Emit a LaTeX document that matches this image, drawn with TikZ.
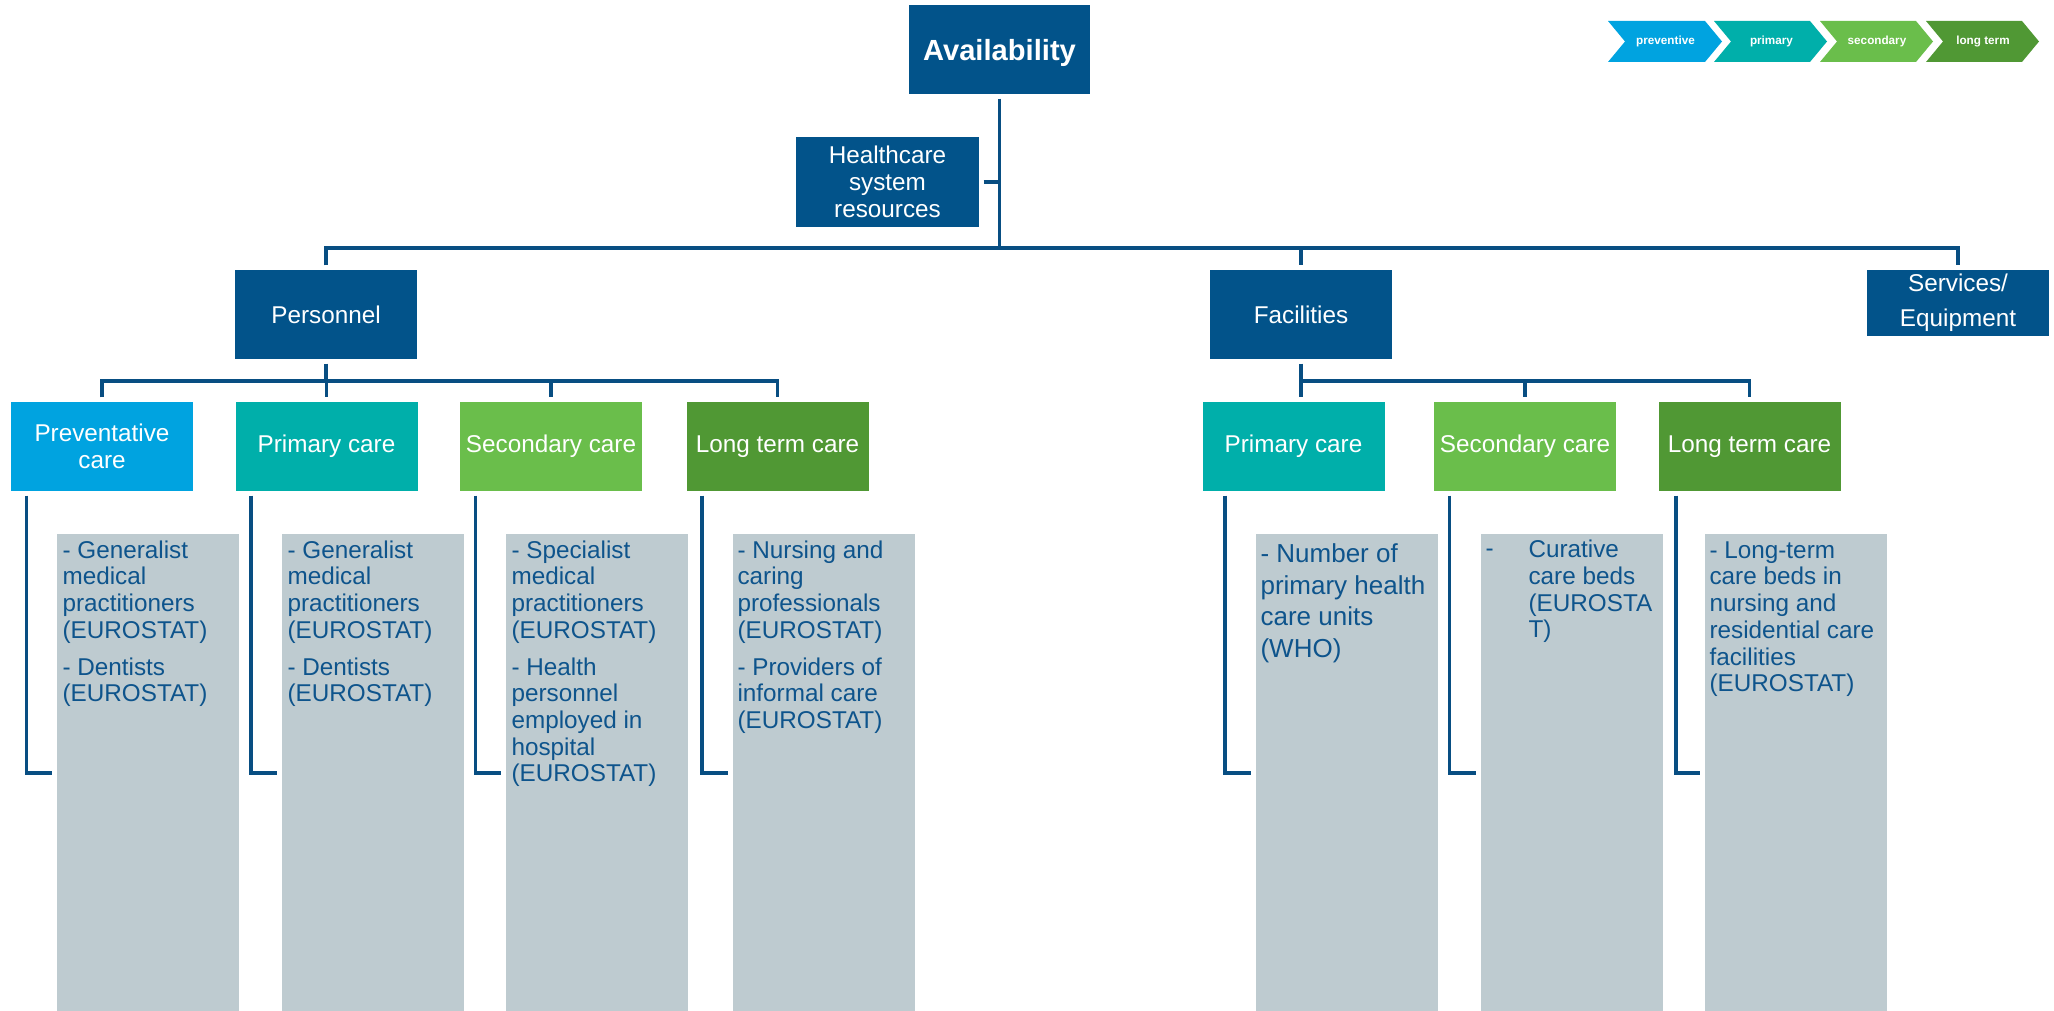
\documentclass[tikz,border=0pt]{standalone}
\usepackage{fontspec}
\setmainfont{Liberation Sans}
\definecolor{navy}{RGB}{2,83,138}
\definecolor{lineblue}{RGB}{8,78,130}
\definecolor{prevblue}{RGB}{0,163,224}
\definecolor{primteal}{RGB}{0,175,170}
\definecolor{secgreen}{RGB}{106,190,75}
\definecolor{ltgreen}{RGB}{80,152,52}
\definecolor{panelgrey}{RGB}{190,203,208}
\definecolor{paneltext}{RGB}{14,84,140}
\tikzset{
  hdr/.style={fill=navy, text=white, inner sep=0pt, align=center,
    font=\fontsize{8.5pt}{9.35pt}\selectfont,
    minimum width=63.7pt, minimum height=31.15pt},
  panel/.style={fill=panelgrey, inner sep=0pt, anchor=north,
    minimum width=63.7pt, minimum height=167.3pt},
  ptext/.style={anchor=north west, inner sep=0pt, align=left, text=paneltext,
    font=\fontsize{8.5pt}{9.35pt}\selectfont},
  conn/.style={draw=lineblue, line width=1.2pt},
  legtext/.style={text=white, inner sep=0pt, font=\bfseries\fontsize{4.1pt}{4.7pt}\selectfont}
}
\begin{document}
\begin{tikzpicture}[x=0.35pt, y=-0.35pt]
\useasboundingbox (0,0) rectangle (2054,1011);

% legend chevrons
\fill[prevblue] (1608,21) -- (1705,21) -- (1722,41.5) -- (1705,62) -- (1608,62) -- (1625,41.5) -- cycle;
\fill[primteal] (1714,21) -- (1810,21) -- (1827,41.5) -- (1810,62) -- (1714,62) -- (1731,41.5) -- cycle;
\fill[secgreen] (1820,21) -- (1916,21) -- (1933,41.5) -- (1916,62) -- (1820,62) -- (1837,41.5) -- cycle;
\fill[ltgreen] (1926,21) -- (2022,21) -- (2039,41.5) -- (2022,62) -- (1926,62) -- (1943,41.5) -- cycle;
\node[legtext] (lgprev) at (1665.5,41.5) {preventive};
\node[legtext] (lgprim) at (1771.5,41.5) {primary};
\node[legtext] (lgsec) at (1877,41.5) {secondary};
\node[legtext] (lglong) at (1983,41.5) {long term};

% top nodes
\node[hdr, minimum width=63.35pt, text depth=0pt, font=\bfseries\fontsize{10.2pt}{12pt}\selectfont] (avail) at (999.5,49.5) {Availability};
\node[hdr, minimum width=64.05pt, minimum height=31.5pt] (hsr) at (887.5,182) {Healthcare\\system\\resources};
\node[hdr] (pers) at (326,314.5) {Personnel};
\node[hdr] (fac) at (1301,314.5) {Facilities};
\node[hdr, minimum height=23.1pt, font=\fontsize{8.5pt}{12.25pt}\selectfont] (serv) at (1958,303) {Services/\\Equipment};

% category headers
\node[hdr, fill=prevblue, font=\fontsize{8.5pt}{9.45pt}\selectfont] (pprev) at (102,446.5) {Preventative\\care};
\node[hdr, fill=primteal] (pprim) at (326.5,446.5) {Primary care};
\node[hdr, fill=secgreen] (psec) at (551,446.5) {Secondary care};
\node[hdr, fill=ltgreen] (plong) at (777.5,446.5) {Long term care};
\node[hdr, fill=primteal] (fprim) at (1293.5,446.5) {Primary care};
\node[hdr, fill=secgreen] (fsec) at (1525,446.5) {Secondary care};
\node[hdr, fill=ltgreen] (flong) at (1749.5,446.5) {Long term care};

% grey panels
\node[panel] (gprev) at (148,533) {};
\node[panel] (gprim) at (372.5,533) {};
\node[panel] (gsec) at (597,533) {};
\node[panel] (glong) at (824,533) {};
\node[panel] (gfprim) at (1347,533) {};
\node[panel] (gfsec) at (1571.5,533) {};
\node[panel] (gflong) at (1795.5,533) {};

% panel texts
\node[ptext] (tprev) at (62,540) {- Generalist\\medical\\practitioners\\(EUROSTAT)\\[3.5pt]- Dentists\\(EUROSTAT)};
\node[ptext] (tprim) at (287,540) {- Generalist\\medical\\practitioners\\(EUROSTAT)\\[3.5pt]- Dentists\\(EUROSTAT)};
\node[ptext] (tsec) at (511,540) {- Specialist\\medical\\practitioners\\(EUROSTAT)\\[3.5pt]- Health\\personnel\\employed in\\hospital\\(EUROSTAT)};
\node[ptext] (tlong) at (737,540) {- Nursing and\\caring\\professionals\\(EUROSTAT)\\[3.5pt]- Providers of\\informal care\\(EUROSTAT)};
\node[ptext, font=\fontsize{9.1pt}{11.1pt}\selectfont] (tfprim) at (1260,543) {- Number of\\primary health\\care units\\(WHO)};
\node[ptext, anchor=base west] (tfsecdash) at (1485,557) {-};
\node[ptext] (tfsec) at (1528,539.5) {Curative\\care beds\\(EUROSTA\\T)};
\node[ptext] (tflong) at (1709,541) {- Long-term\\care beds in\\nursing and\\residential care\\facilities\\(EUROSTAT)};

% connectors
\coordinate (bus) at (0,248);
\coordinate (pbus) at (0,381);
\coordinate (elb) at (0,773);
\draw[conn, shorten <=1.4pt] (avail.south) -- (avail.south |- bus);
\draw[conn, shorten <=1.4pt] (hsr.east) -- (hsr.east -| avail.south);
\draw[conn, shorten <=1.4pt, shorten >=1.4pt] (pers.north) |- (bus -| serv.north) -- (serv.north);
\draw[conn, shorten >=1.4pt] (bus -| fac.north) -- (fac.north);

\draw[conn, shorten <=1.4pt] (pers.south) -- (pers.south |- pbus);
\draw[conn, shorten <=1.4pt, shorten >=1.4pt] (pprev.north) |- (pbus -| plong.north) -- (plong.north);
\draw[conn, shorten >=1.4pt] (pbus -| pprim.north) -- (pprim.north);
\draw[conn, shorten >=1.4pt] (pbus -| psec.north) -- (psec.north);

\draw[conn, shorten <=1.4pt, shorten >=1.4pt] (fac.south) -- (fac.south |- fprim.north);
\draw[conn, shorten >=1.4pt] (fac.south |- pbus) -| (flong.north);
\draw[conn, shorten >=1.4pt] (pbus -| fsec.north) -- (fsec.north);

\draw[conn, shorten <=1.4pt, shorten >=1.4pt] ([xshift=5.6pt]pprev.south west) |- (gprev.west |- elb);
\draw[conn, shorten <=1.4pt, shorten >=1.4pt] ([xshift=5.6pt]pprim.south west) |- (gprim.west |- elb);
\draw[conn, shorten <=1.4pt, shorten >=1.4pt] ([xshift=5.6pt]psec.south west) |- (gsec.west |- elb);
\draw[conn, shorten <=1.4pt, shorten >=1.4pt] ([xshift=5.6pt]plong.south west) |- (glong.west |- elb);
\draw[conn, shorten <=1.4pt, shorten >=1.4pt] ([xshift=8.05pt]fprim.south west) |- (gfprim.west |- elb);
\draw[conn, shorten <=1.4pt, shorten >=1.4pt] ([xshift=5.6pt]fsec.south west) |- (gfsec.west |- elb);
\draw[conn, shorten <=1.4pt, shorten >=1.4pt] ([xshift=6.3pt]flong.south west) |- (gflong.west |- elb);
\end{tikzpicture}
\end{document}
